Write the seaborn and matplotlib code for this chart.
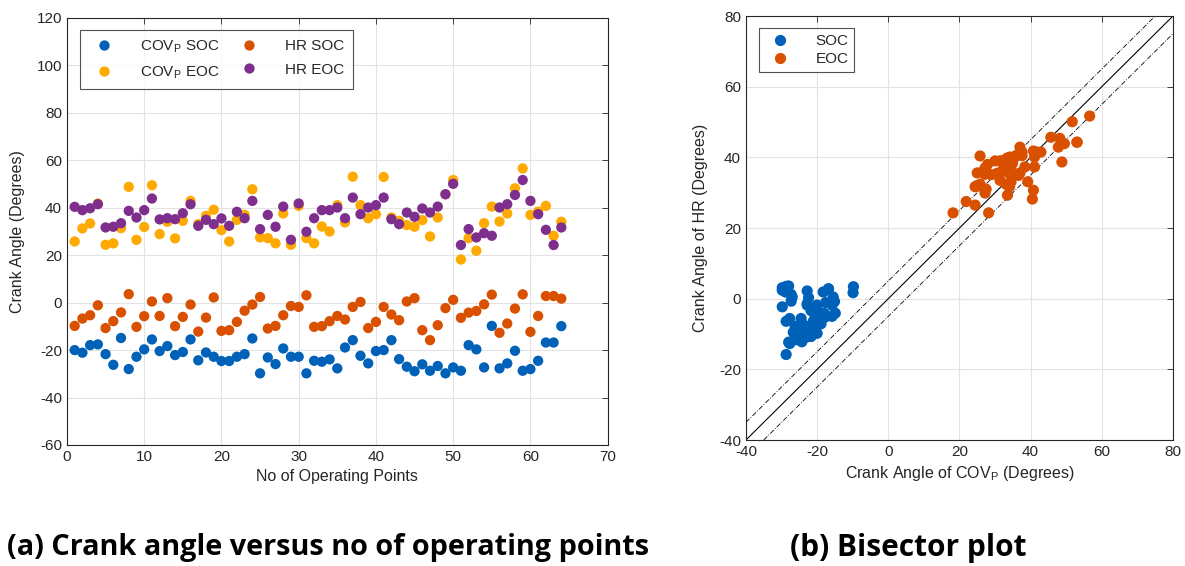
import numpy as np
import pandas as pd
import matplotlib
matplotlib.use("Agg")
import matplotlib.pyplot as plt
import seaborn as sns

# ---------------- data ----------------
points = list(range(1, 65))

covp_soc = [-20.0, -21.1, -17.9, -17.6, -21.7, -26.2, -14.9, -28.0, -22.8, -19.7,
            -15.5, -20.4, -18.3, -22.1, -20.8, -15.5, -24.3, -21.0, -22.8, -24.6,
            -24.6, -22.8, -21.7, -15.1, -29.8, -23.1, -25.9, -19.3, -22.8, -22.8,
            -29.8, -24.5, -24.9, -23.9, -27.7, -18.9, -15.8, -22.4, -25.6, -20.4,
            -20.0, -15.8, -23.8, -27.0, -28.9, -26.0, -28.7, -26.7, -29.8, -27.3,
            -28.7, -17.9, -19.7, -27.3, -9.8, -27.7, -25.6, -20.3, -28.7, -28.0,
            -24.5, -16.8, -16.8, -9.9]

covp_eoc = [25.8, 31.3, 33.4, 41.8, 24.4, 25.0, 31.4, 48.8, 26.5, 31.9,
            49.5, 28.9, 34.1, 27.1, 34.5, 42.9, 33.1, 36.6, 39.2, 30.6,
            25.8, 34.9, 37.0, 47.8, 27.5, 27.2, 25.0, 37.6, 24.4, 40.8,
            27.2, 25.0, 32.1, 30.0, 41.1, 33.8, 53.1, 41.1, 35.6, 37.3,
            53.0, 35.9, 34.5, 32.7, 32.0, 34.8, 27.9, 35.9, 45.7, 51.7,
            18.2, 27.2, 21.9, 33.5, 40.5, 34.2, 37.6, 48.2, 56.6, 37.0,
            38.4, 40.8, 28.2, 34.1]

hr_soc = [-9.8, -6.7, -5.3, -1.1, -10.7, -7.8, -4.1, 3.6, -10.2, -5.7,
          0.5, -5.6, 1.9, -9.9, -6.0, -0.8, -12.2, -6.3, 2.2, -11.9,
          -11.6, -8.1, -3.4, -0.8, 2.4, -10.9, -9.8, -5.3, -1.4, -1.8,
          3.1, -10.2, -9.9, -7.8, -5.6, -7.1, -1.8, 0.3, -10.7, -8.1,
          -1.8, -5.0, -7.4, 0.5, 1.9, -11.6, -15.8, -9.5, -2.3, 1.2,
          -6.4, -4.2, -3.5, -0.7, 3.4, -12.7, -8.8, -2.5, 3.5, -12.3,
          -5.6, 2.8, 2.8, 1.7]

hr_eoc = [40.4, 39.0, 39.8, 41.5, 31.7, 32.0, 33.5, 38.7, 35.9, 39.0,
          43.9, 35.1, 35.6, 35.2, 37.7, 41.5, 32.4, 34.9, 33.1, 35.5,
          32.4, 38.3, 35.6, 42.9, 31.0, 37.0, 32.0, 40.5, 26.5, 41.8,
          29.9, 35.6, 39.0, 39.0, 40.1, 35.6, 44.3, 37.3, 40.1, 41.1,
          44.3, 35.2, 33.1, 38.0, 36.2, 39.7, 38.0, 40.5, 45.7, 50.1,
          24.3, 31.0, 27.5, 29.3, 28.2, 40.1, 41.5, 45.4, 51.7, 42.9,
          37.3, 30.7, 24.3, 31.7]

series_names = [r"COV$_\mathrm{P}$ SOC", r"COV$_\mathrm{P}$ EOC", "HR SOC", "HR EOC"]
phase_names = ["SOC", "EOC"]
bisector_offsets = [-5, 0, 5]

left_xticks = list(range(0, 71, 10))
left_yticks = list(range(-60, 121, 20))
right_ticks = list(range(-40, 81, 20))

# ---------------- style ----------------
sns.set_theme(style="whitegrid")
plt.rcParams.update({
    "font.family": ["Liberation Sans", "DejaVu Sans"],
    "axes.unicode_minus": False,
    "axes.edgecolor": "#262626",
    "axes.linewidth": 0.8,
    "grid.color": "#e3e3e3",
    "grid.linewidth": 0.8,
    "xtick.direction": "in",
    "ytick.direction": "in",
    "xtick.top": True,
    "ytick.right": True,
    "xtick.major.size": 4,
    "ytick.major.size": 4,
    "xtick.major.width": 0.6,
    "ytick.major.width": 0.6,
    "xtick.color": "#262626",
    "ytick.color": "#262626",
    "xtick.labelsize": 11,
    "ytick.labelsize": 11,
    "axes.labelsize": 11.5,
    "axes.labelcolor": "#262626",
    "mathtext.fontset": "custom",
    "mathtext.rm": "Liberation Sans",
})

blue = "#0061B8"
yellow = "#FFAA00"
orange = "#D95000"
purple = "#7E2F8E"
palette_left = dict(zip(series_names, [blue, yellow, orange, purple]))
palette_right = dict(zip(phase_names, [blue, orange]))

df_left = pd.DataFrame({
    "point": points * 4,
    "angle": covp_soc + covp_eoc + hr_soc + hr_eoc,
    "series": np.repeat(series_names, len(points)),
})
df_right = pd.DataFrame({
    "cov": covp_soc + covp_eoc,
    "hr": hr_soc + hr_eoc,
    "phase": np.repeat(phase_names, len(points)),
})

fig = plt.figure(figsize=(11.85, 5.66), dpi=100)
ax1 = fig.add_axes([0.0565, 0.2138, 0.4563, 0.7544])
ax2 = fig.add_axes([0.6295, 0.2226, 0.3603, 0.749])

# ---------------- left plot ----------------
sns.scatterplot(data=df_left, x="point", y="angle", hue="series",
                hue_order=series_names, palette=palette_left,
                s=55, linewidth=0, ax=ax1, zorder=3)
ax1.set_xlim(0, 70)
ax1.set_ylim(-60, 120)
ax1.set_xticks(left_xticks)
ax1.set_yticks(left_yticks)
ax1.set_xlabel("No of Operating Points", labelpad=4)
ax1.set_ylabel("Crank Angle (Degrees)", labelpad=8)
sns.move_legend(ax1, "upper left", bbox_to_anchor=(0.024, 0.972), ncol=2,
                title=None, frameon=True, fontsize=11, borderaxespad=0,
                columnspacing=0.9, handletextpad=1.4, borderpad=0.55,
                labelspacing=0.6, markerscale=1.0, fancybox=False)
leg1 = ax1.get_legend()
leg1.get_frame().set_edgecolor("#262626")
leg1.get_frame().set_linewidth(0.8)

# ---------------- right plot ----------------
for off in bisector_offsets:
    ax2.axline((0, off), slope=1, color="black",
               linewidth=0.8 if off == 0 else 0.6,
               linestyle="-" if off == 0 else (0, (6, 2, 1, 2)), zorder=2)
sns.scatterplot(data=df_right, x="cov", y="hr", hue="phase",
                hue_order=phase_names, palette=palette_right,
                s=65, linewidth=0, ax=ax2, zorder=3)
ax2.set_xlim(-40, 80)
ax2.set_ylim(-40, 80)
ax2.set_xticks(right_ticks)
ax2.set_yticks(right_ticks)
ax2.set_xlabel(r"Crank Angle of COV$_\mathrm{P}$ (Degrees)", labelpad=4)
ax2.set_ylabel("Crank Angle of HR (Degrees)", labelpad=8)
sns.move_legend(ax2, "upper left", bbox_to_anchor=(0.030, 0.972),
                title=None, frameon=True, fontsize=11, borderaxespad=0,
                handletextpad=1.3, borderpad=0.4, labelspacing=0.25,
                fancybox=False)
leg2 = ax2.get_legend()
leg2.get_frame().set_edgecolor("#262626")
leg2.get_frame().set_linewidth(0.8)

for ax in (ax1, ax2):
    for sp in ax.spines.values():
        sp.set_visible(True)
        sp.set_color("#262626")

# ---------------- captions ----------------
fig.text(328 / 1185, 1 - 548 / 566, "(a) Crank angle versus no of operating points",
         ha="center", va="center", fontsize=20.8, fontweight="bold", color="black",
         family=["Open Sans", "DejaVu Sans"])
fig.text(908 / 1185, 1 - 548 / 566, "(b) Bisector plot",
         ha="center", va="center", fontsize=21.5, fontweight="bold", color="black",
         family=["Open Sans", "DejaVu Sans"])

fig.savefig("out.png", dpi=100)
